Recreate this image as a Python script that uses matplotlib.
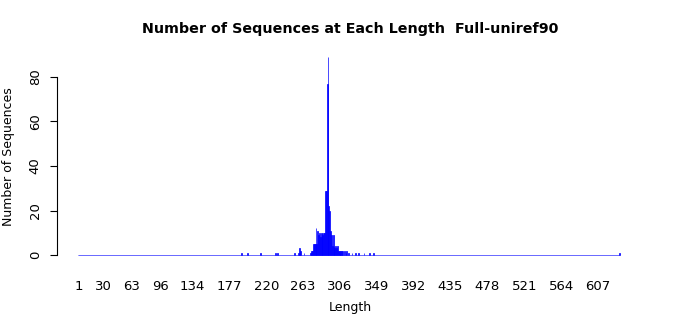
import numpy as np
import matplotlib
matplotlib.use("Agg")
import matplotlib.pyplot as plt

# Observed (non-zero) counts per sequence length
obs_lengths = [191, 198, 213, 231, 233, 253, 258, 259, 260, 264,
               272, 273, 274, 275, 276, 277, 278, 279, 280, 281,
               282, 283, 284, 285, 286, 287, 288, 289, 290, 291,
               292, 293, 294, 295, 296, 297, 298, 299, 300, 301,
               302, 303, 304, 305, 306, 307, 308, 309, 311, 313,
               314, 316, 320, 324, 328, 334, 340, 345, 632]
obs_counts = [1, 1, 1, 1, 1, 1, 1, 3, 2, 1,
              1, 2, 2, 5, 5, 5, 12, 5, 11, 9,
              10, 8, 10, 10, 9, 10, 10, 29, 29, 77,
              89, 22, 20, 11, 9, 4, 9, 4, 3, 4,
              3, 4, 2, 2, 1, 2, 2, 2, 2, 1,
              2, 1, 1, 1, 1, 1, 1, 1, 1]

min_len, max_len = 1, 632
x_ticks = [1, 30, 63, 96, 134, 177, 220, 263, 306, 349, 392, 435, 478, 521, 564, 607]
y_ticks = [0, 20, 40, 60, 80]

title = "Number of Sequences at Each Length  Full-uniref90"

lengths = np.arange(min_len, max_len + 1)
counts = np.zeros_like(lengths)
for L, c in zip(obs_lengths, obs_counts):
    counts[L - min_len] = c

fig = plt.figure(figsize=(7, 3.15), dpi=100)
ax = fig.add_axes([57 / 700, 1 - 263 / 315, 584 / 700, 214 / 315])

ax.bar(lengths, counts, width=1.0, color="blue", edgecolor="blue", linewidth=0.5)

span = max_len - min_len
ax.set_xlim(min_len - 0.04 * span, max_len + 0.04 * span)
top = max(counts)
ax.set_ylim(-0.04 * top, top * 1.04)

for s in ["top", "right", "bottom"]:
    ax.spines[s].set_visible(False)
ax.spines["left"].set_bounds(0, 80)
ax.spines["left"].set_linewidth(0.8)

ax.set_xticks(x_ticks)
ax.set_xticklabels([str(t) for t in x_ticks], fontsize=9.5)
ax.tick_params(axis="x", length=0, pad=12)
ax.set_yticks(y_ticks)
ax.set_yticklabels([str(t) for t in y_ticks], fontsize=9.5, rotation=90, va="center")
ax.tick_params(axis="y", length=5, pad=6, width=0.8)

fig.text(350 / 700, 1 - 308 / 315, "Length", ha="center", va="center", fontsize=9)
fig.text(9 / 700, 1 - 157 / 315, "Number of Sequences", ha="center", va="center",
         rotation=90, fontsize=9)

fig.text(0.5, 1 - 29 / 315, title, ha="center", va="center", fontsize=10.25, fontweight="bold")

fig.savefig("out.png", dpi=100)
